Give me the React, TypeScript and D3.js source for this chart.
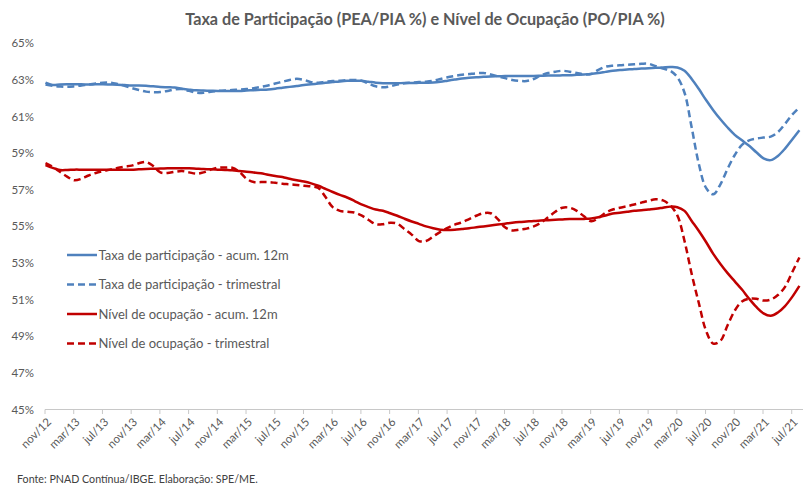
import React from "react";
import * as d3 from "d3";

const title = "Taxa de Participação (PEA/PIA %) e Nível de Ocupação (PO/PIA %)";
const footer = "Fonte: PNAD Contínua/IBGE. Elaboração: SPE/ME.";

const monthNames = ["jan", "fev", "mar", "abr", "mai", "jun", "jul", "ago", "set", "out", "nov", "dez"];
// Monthly categories from nov/12 to aug/21
const startYear = 2012;
const startMonth = 10;
const nMonths = 106;
const categories: string[] = Array.from({ length: nMonths }, (_, i) => {
  const m = (startMonth + i) % 12;
  const y = startYear + Math.floor((startMonth + i) / 12);
  return `${monthNames[m]}/${String(y).slice(2)}`;
});

const yTicks = [45, 47, 49, 51, 53, 55, 57, 59, 61, 63, 65];

const taxaAcum = [
  62.85, 62.72, 62.75, 62.76, 62.76, 62.76, 62.75, 62.76, 62.76, 62.75,
  62.74, 62.72, 62.7, 62.7, 62.68, 62.65, 62.62, 62.6, 62.58, 62.52,
  62.47, 62.43, 62.42, 62.41, 62.4, 62.4, 62.4, 62.4, 62.42, 62.44,
  62.46, 62.48, 62.52, 62.57, 62.62, 62.67, 62.72, 62.76, 62.8, 62.84,
  62.88, 62.92, 62.95, 62.96, 62.95, 62.9, 62.85, 62.82, 62.82, 62.82,
  62.83, 62.83, 62.84, 62.85, 62.86, 62.9, 62.96, 63.02, 63.08, 63.12,
  63.15, 63.17, 63.19, 63.2, 63.21, 63.22, 63.22, 63.22, 63.22, 63.23,
  63.24, 63.24, 63.25, 63.26, 63.28, 63.3, 63.33, 63.38, 63.44, 63.5,
  63.54, 63.57, 63.6, 63.62, 63.64, 63.66, 63.68, 63.7, 63.68, 63.5,
  63.05, 62.5, 61.9, 61.35, 60.85, 60.4, 60.0, 59.7, 59.4, 59.05,
  58.72, 58.62, 58.85, 59.25, 59.75, 60.25,
];

const taxaTrim = [
  62.75, 62.68, 62.64, 62.62, 62.65, 62.7, 62.74, 62.8, 62.85, 62.85,
  62.78, 62.68, 62.56, 62.45, 62.36, 62.33, 62.34, 62.4, 62.48, 62.5,
  62.4, 62.3, 62.3, 62.36, 62.4, 62.42, 62.45, 62.47, 62.5, 62.55,
  62.62, 62.7, 62.8, 62.9, 63.0, 63.06, 63.0, 62.88, 62.85, 62.9,
  62.94, 62.96, 62.98, 63.0, 62.95, 62.8, 62.65, 62.6, 62.65, 62.75,
  62.82, 62.85, 62.88, 62.9, 62.95, 63.05, 63.15, 63.22, 63.28, 63.32,
  63.36, 63.38, 63.3, 63.2, 63.1, 63.0, 62.95, 62.94, 63.05, 63.25,
  63.38, 63.45, 63.5, 63.45, 63.38, 63.3, 63.32, 63.55, 63.72, 63.78,
  63.8, 63.83, 63.85, 63.88, 63.88, 63.75, 63.62, 63.5, 63.15, 62.3,
  60.4, 58.4, 57.1, 56.75, 57.3, 58.15, 58.9, 59.45, 59.7, 59.8,
  59.85, 59.9, 60.15, 60.6, 61.1, 61.5,
];

const nivelAcum = [
  58.35, 58.2, 58.08, 58.08, 58.1, 58.1, 58.1, 58.1, 58.1, 58.1,
  58.1, 58.1, 58.1, 58.12, 58.14, 58.15, 58.16, 58.17, 58.18, 58.18,
  58.17, 58.15, 58.13, 58.12, 58.1, 58.08, 58.06, 58.02, 57.98, 57.95,
  57.9, 57.82, 57.75, 57.7, 57.6, 57.52, 57.45, 57.35, 57.22, 57.05,
  56.88, 56.72, 56.58, 56.4, 56.2, 56.05, 55.92, 55.85, 55.72, 55.58,
  55.42, 55.27, 55.14, 55.0, 54.9, 54.82, 54.8, 54.82, 54.86, 54.9,
  54.95, 55.0, 55.05, 55.1, 55.15, 55.2, 55.24, 55.27, 55.3, 55.32,
  55.34, 55.36, 55.38, 55.4, 55.4, 55.41, 55.43, 55.5, 55.6, 55.7,
  55.75, 55.8, 55.85, 55.88, 55.92, 55.96, 56.02, 56.08, 56.05, 55.85,
  55.3, 54.75, 54.15, 53.5, 52.95, 52.45, 52.0, 51.55, 51.05, 50.6,
  50.25, 50.12, 50.3, 50.65, 51.15, 51.75,
];

const nivelTrim = [
  58.45, 58.25, 57.98, 57.72, 57.52, 57.6, 57.78, 57.92, 58.02, 58.1,
  58.19, 58.26, 58.32, 58.45, 58.52, 58.3, 57.95, 57.92, 57.98, 58.02,
  57.95, 57.88, 57.95, 58.1, 58.2, 58.22, 58.2, 57.98, 57.6, 57.42,
  57.42, 57.42, 57.38, 57.33, 57.3, 57.26, 57.22, 57.19, 57.1, 56.6,
  56.05, 55.85, 55.8, 55.76, 55.6, 55.35, 55.12, 55.12, 55.2, 55.15,
  54.85, 54.55, 54.2, 54.2, 54.45, 54.7, 54.92, 55.1, 55.22, 55.4,
  55.58, 55.72, 55.72, 55.4, 54.95, 54.78, 54.82, 54.88, 55.0, 55.2,
  55.5, 55.8, 56.02, 56.02, 55.85, 55.55, 55.28, 55.45, 55.75, 55.92,
  56.02, 56.1, 56.2, 56.3, 56.4, 56.48, 56.42, 56.15, 55.6, 54.2,
  52.4, 50.8, 49.3, 48.6, 48.75, 49.6, 50.4, 50.9, 51.05, 51.05,
  50.95, 51.0, 51.25, 51.7, 52.5, 53.3,
];

const seriesNames = [
  "Taxa de participação - acum. 12m",
  "Taxa de participação - trimestral",
  "Nível de ocupação - acum. 12m",
  "Nível de ocupação - trimestral",
];

const BLUE = "#4f81bd";
const RED = "#c00000";
const TEXT = "#595959";
const FONT = "Lato, 'Open Sans', sans-serif";

export default function App() {
  const W = 803;
  const H = 484;
  const x = d3.scaleLinear().domain([0, nMonths - 1]).range([45.5, 799.4]);
  const y = d3.scaleLinear().domain([45, 65]).range([409.5, 43.3]);

  const line = d3
    .line<number>()
    .x((_, i) => x(i))
    .y((d) => y(d))
    .curve(d3.curveCatmullRom.alpha(0.5));

  const series = [
    { name: seriesNames[0], data: taxaAcum, color: BLUE, dash: undefined },
    { name: seriesNames[1], data: taxaTrim, color: BLUE, dash: "7,4" },
    { name: seriesNames[2], data: nivelAcum, color: RED, dash: undefined },
    { name: seriesNames[3], data: nivelTrim, color: RED, dash: "7,4" },
  ];

  const tickIdx = d3.range(0, nMonths, 4);
  const legendY = [255, 284.5, 314, 343.5];

  return (
    <svg
      width={W}
      height={H}
      style={{ position: "absolute", left: 0, top: 0, background: "#fff" }}
      fontFamily={FONT}
    >
      <rect x={0} y={0} width={W} height={H} fill="#fff" />
      <text
        x={425}
        y={25}
        textAnchor="middle"
        fontSize={16.2}
        fontWeight="bold"
        fill={TEXT}
      >
        {title}
      </text>

      {yTicks.map((t) => (
        <text
          key={t}
          x={34}
          y={y(t)}
          dy="0.35em"
          textAnchor="end"
          fontSize={11.5}
          fill={TEXT}
        >
          {`${t}%`}
        </text>
      ))}

      <line x1={45} x2={803} y1={409.5} y2={409.5} stroke="#c8c8c8" strokeWidth={1} />
      {tickIdx.map((i) => (
        <line
          key={i}
          x1={x(i) - 0.5}
          x2={x(i) - 0.5}
          y1={409.5}
          y2={414}
          stroke="#c8c8c8"
          strokeWidth={1}
        />
      ))}
      {tickIdx.map((i) => (
        <text
          key={`l${i}`}
          transform={`translate(${x(i) + 3.5},${420}) rotate(-45)`}
          textAnchor="end"
          dy="0.35em"
          fontSize={11.5}
          fill={TEXT}
        >
          {categories[i]}
        </text>
      ))}

      {series.map((s) => (
        <path
          key={s.name}
          d={line(s.data) || ""}
          fill="none"
          stroke={s.color}
          strokeWidth={2.5}
          strokeDasharray={s.dash}
          strokeLinejoin="round"
        />
      ))}

      {series.map((s, k) => (
        <g key={`lg${k}`}>
          <line
            x1={67}
            x2={97}
            y1={legendY[k]}
            y2={legendY[k]}
            stroke={s.color}
            strokeWidth={2.5}
            strokeDasharray={s.dash}
          />
          <text x={98.5} y={legendY[k]} dy="0.35em" fontSize={13} fill={TEXT}>
            {s.name}
          </text>
        </g>
      ))}

      <text x={17} y={483} fontSize={10.7} fill="#404040">
        {footer}
      </text>
    </svg>
  );
}
